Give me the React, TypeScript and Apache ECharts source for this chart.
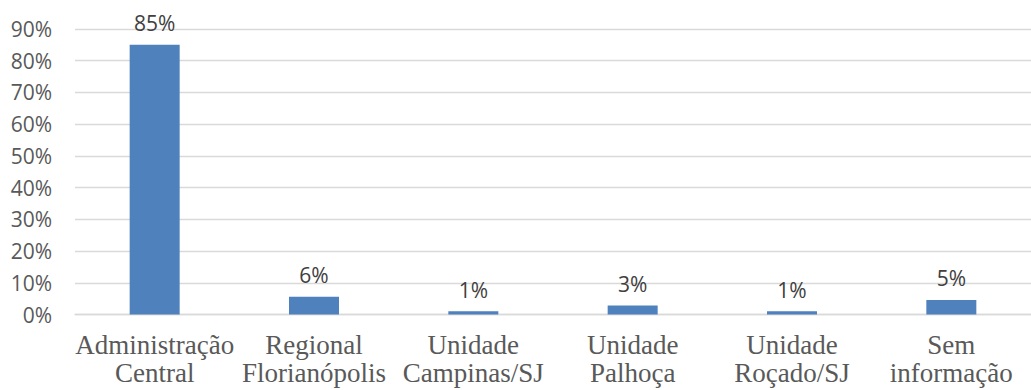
import React, { useEffect, useRef } from "react";
import * as echarts from "echarts";

const categories = [
  "Administração\nCentral",
  "Regional\nFlorianópolis",
  "Unidade\nCampinas/SJ",
  "Unidade\nPalhoça",
  "Unidade\nRoçado/SJ",
  "Sem\ninformação",
];
const values = [85, 5.6, 1.0, 2.8, 1.0, 4.6];
const labels = ["85%", "6%", "1%", "3%", "1%", "5%"];
const yTicks = [0, 10, 20, 30, 40, 50, 60, 70, 80, 90];

export default function App() {
  const ref = useRef<HTMLDivElement>(null);
  useEffect(() => {
    if (!ref.current) return;
    const chart = echarts.init(ref.current, undefined, { renderer: "svg" });
    chart.setOption({
      animation: false,
      backgroundColor: "#ffffff",
      grid: { left: 75, top: 29, width: 962, height: 285.5 },
      xAxis: {
        type: "category",
        data: categories,
        axisLine: { show: true, lineStyle: { color: "#D9D9D9", width: 1.3 } },
        axisTick: { show: false },
        axisLabel: {
          interval: 0,
          margin: 16,
          fontFamily: "Liberation Serif",
          fontSize: 27,
          lineHeight: 28,
          color: "#595959",
        },
      },
      yAxis: {
        type: "value",
        min: yTicks[0],
        max: yTicks[yTicks.length - 1],
        interval: 10,
        axisLine: { show: false },
        axisTick: { show: false },
        splitLine: { lineStyle: { color: "#D9D9D9", width: 1.3 } },
        axisLabel: {
          margin: 23,
          fontFamily: "Open Sans",
          fontSize: 21,
          color: "#595959",
          formatter: (v: number) => `${v}%`,
        },
      },
      series: [
        {
          type: "bar",
          data: values,
          barWidth: 50,
          itemStyle: { color: "#4F81BD" },
          label: {
            show: true,
            position: "top",
            distance: 11,
            fontFamily: "Open Sans",
            fontSize: 21,
            color: "#404040",
            formatter: (p: any) => labels[p.dataIndex],
          },
        },
      ],
    });
    return () => chart.dispose();
  }, []);
  return (
    <div
      ref={ref}
      style={{ position: "fixed", left: 0, top: 0, width: 1031, height: 390 }}
    />
  );
}
